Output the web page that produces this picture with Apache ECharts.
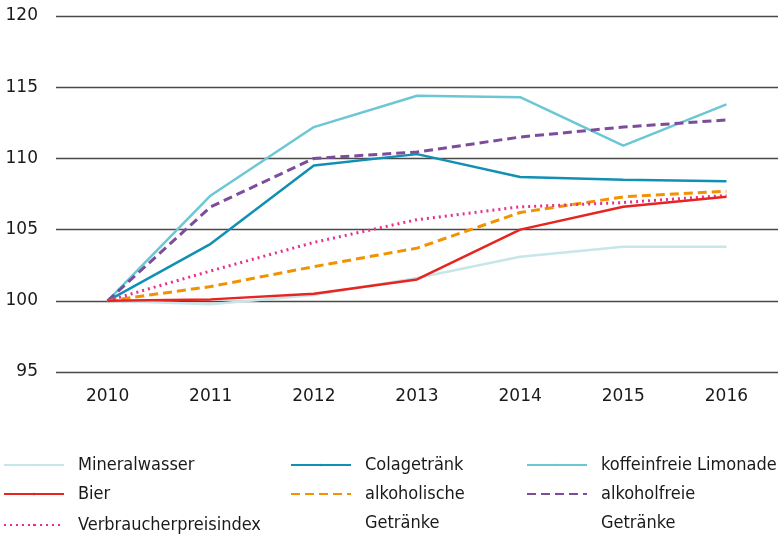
<!DOCTYPE html>
<html>
<head>
<meta charset="UTF-8">
<title>Preisindex Getränke</title>
<script src="https://cdn.jsdelivr.net/npm/echarts@6/dist/echarts.min.js"></script>
<style>
  html, body { margin: 0; padding: 0; background: #fff; }
  #main { width: 783px; height: 537px; }
</style>
</head>
<body>
<div id="main"></div>
<script type="text/javascript">
// Jahre und Werte (2010 = 100)
var years = ['2010', '2011', '2012', '2013', '2014', '2015', '2016'];
var mineralwasser = [100, 99.75, 100.4, 101.6, 103.1, 103.8, 103.8];
var bier = [100, 100.1, 100.5, 101.5, 105.0, 106.6, 107.3];
var cola = [100, 104.0, 109.5, 110.3, 108.7, 108.5, 108.4];
var limonade = [100, 107.4, 112.2, 114.4, 114.3, 110.9, 113.8];
var alkoholfrei = [100, 106.6, 110.0, 110.45, 111.5, 112.2, 112.7];
var alkoholisch = [100, 101.0, 102.4, 103.7, 106.2, 107.3, 107.7];
var vpi = [100, 102.1, 104.1, 105.7, 106.6, 106.9, 107.4];
var yTicks = [95, 100, 105, 110, 115, 120];

var myChart = echarts.init(document.getElementById('main'));

var legendFont = '"Liberation Sans Narrow", "DejaVu Sans Condensed", "Roboto", sans-serif';
var LH = 29;

// eine Legende je Eintrag, damit die Spalten frei stehen
// rowY = Mitte der Linie; bei zwei Zeilen eine Leerzeile davor, damit die erste Zeile neben der Linie steht
function oneLegend(name, left, rowY, twoLines) {
  return {
    data: [name],
    left: left,
    top: rowY - (twoLines ? 1.5 * LH : LH / 2),
    itemWidth: 60,
    itemHeight: 3,
    padding: 0,
    selectedMode: false,
    formatter: function (n) {
      return twoLines ? ' \n' + n.replace(' ', '\n') : n;
    },
    textStyle: {
      fontFamily: legendFont,
      fontSize: 18,
      color: '#1a1a1a',
      lineHeight: LH,
      padding: [0, 0, 0, 9]
    }
  };
}

function line(name, data, color, type, width) {
  return {
    name: name,
    type: 'line',
    data: data,
    symbol: 'none',
    lineStyle: { color: color, width: width || 2.5, type: type || 'solid' },
    itemStyle: { color: color }
  };
}

var option = {
  animation: false,
  textStyle: { fontFamily: '"DejaVu Sans", sans-serif' },
  grid: { left: 56, right: 5, top: 16, bottom: 165 },
  legend: [
    oneLegend('Mineralwasser', 3, 465, false),
    oneLegend('Bier', 3, 494, false),
    oneLegend('Verbraucherpreisindex', 3, 525, false),
    oneLegend('Colagetränk', 290, 465, false),
    oneLegend('alkoholische Getränke', 290, 494, true),
    oneLegend('koffeinfreie Limonade', 526, 465, false),
    oneLegend('alkoholfreie Getränke', 526, 494, true)
  ],
  xAxis: {
    type: 'category',
    data: years,
    boundaryGap: true,
    axisLine: { show: false },
    axisTick: { show: false },
    axisLabel: { color: '#1a1a1a', fontSize: 17, margin: 16 }
  },
  yAxis: {
    type: 'value',
    min: yTicks[0],
    max: yTicks[yTicks.length - 1],
    interval: 5,
    axisLine: { show: false },
    axisTick: { show: false },
    axisLabel: { color: '#1a1a1a', fontSize: 17, margin: 18 },
    splitLine: { lineStyle: { color: '#4a4a4a', width: 1.3 } }
  },
  series: [
    line('Mineralwasser', mineralwasser, '#c6e6ea'),
    line('Colagetränk', cola, '#1190b4'),
    line('koffeinfreie Limonade', limonade, '#6cc7d5'),
    line('alkoholfreie Getränke', alkoholfrei, '#7d4c9b', [9, 5], 3),
    line('alkoholische Getränke', alkoholisch, '#f39200', [9, 5], 3),
    line('Verbraucherpreisindex', vpi, '#e8308a', [2, 4], 3),
    line('Bier', bier, '#e62420')
  ]
};

myChart.setOption(option);
</script>
</body>
</html>
